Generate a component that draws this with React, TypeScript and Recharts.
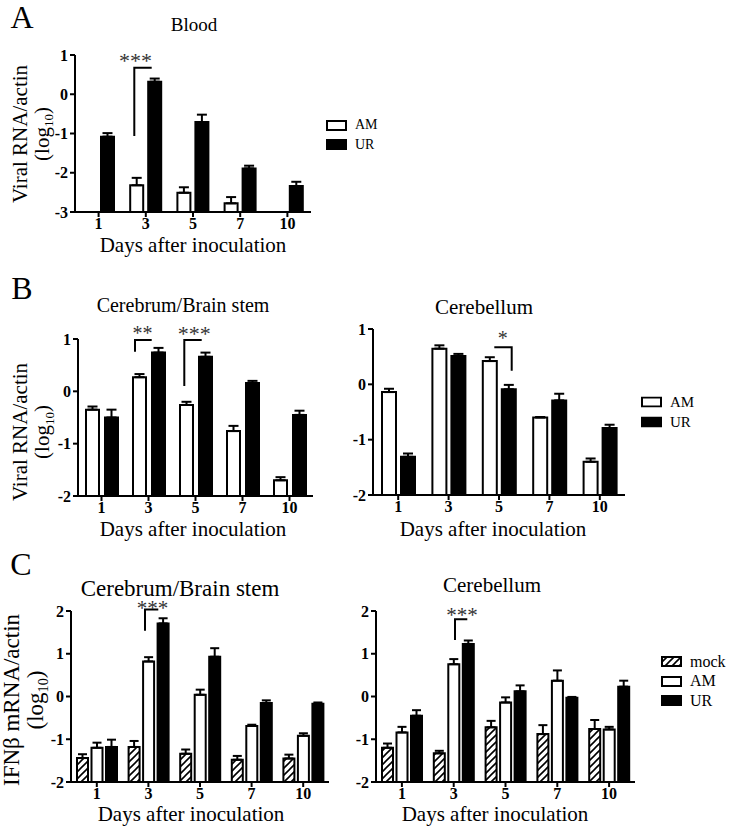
import React from 'react';
import { BarChart, Bar, XAxis, YAxis, ErrorBar } from 'recharts';

const FONT = "'Liberation Serif', 'Times New Roman', Times, serif";

const days = ['1', '3', '5', '7', '10'];

// Panel A: Blood, viral RNA/actin (log10)
const bloodAM = [null, -2.32, -2.51, -2.78, null];
const bloodAMErr = [null, 0.19, 0.14, 0.16, null];
const bloodUR = [-1.08, 0.32, -0.71, -1.89, -2.34];
const bloodURErr = [0.09, 0.08, 0.19, 0.07, 0.11];

// Panel B left: Cerebrum/Brain stem, viral RNA/actin
const cbvAM = [-0.35, 0.27, -0.26, -0.76, -1.7];
const cbvAMErr = [0.06, 0.06, 0.06, 0.1, 0.06];
const cbvUR = [-0.5, 0.74, 0.66, 0.16, -0.45];
const cbvURErr = [0.15, 0.09, 0.08, 0.04, 0.08];

// Panel B right: Cerebellum, viral RNA/actin
const cblvAM = [-0.14, 0.645, 0.42, -0.6, -1.4];
const cblvAMErr = [0.06, 0.06, 0.07, 0.01, 0.06];
const cblvUR = [-1.31, 0.51, -0.09, -0.29, -0.79];
const cblvURErr = [0.06, 0.04, 0.08, 0.12, 0.06];

// Panel C left: Cerebrum/Brain stem, IFNb mRNA/actin
const cbiMock = [-1.44, -1.18, -1.34, -1.48, -1.45];
const cbiMockErr = [0.09, 0.14, 0.1, 0.09, 0.09];
const cbiAM = [-1.2, 0.82, 0.04, -0.69, -0.92];
const cbiAMErr = [0.12, 0.1, 0.12, 0.03, 0.06];
const cbiUR = [-1.18, 1.71, 0.93, -0.15, -0.17];
const cbiURErr = [0.17, 0.12, 0.2, 0.06, 0.03];

// Panel C right: Cerebellum, IFNb mRNA/actin
const cbliMock = [-1.2, -1.33, -0.72, -0.88, -0.76];
const cbliMockErr = [0.1, 0.06, 0.15, 0.21, 0.21];
const cbliAM = [-0.84, 0.755, -0.14, 0.37, -0.77];
const cbliAMErr = [0.13, 0.12, 0.12, 0.24, 0.06];
const cbliUR = [-0.45, 1.23, 0.12, -0.03, 0.23];
const cbliURErr = [0.13, 0.08, 0.14, 0.02, 0.14];

const viralTicksA = [-3, -2, -1, 0, 1];
const viralTicksB = [-2, -1, 0, 1];
const ifnTicks = [-2, -1, 0, 1, 2];

type Series = { key: string; values: (number | null)[]; errs: (number | null)[]; fill: string };

function buildRows(series: Series[]) {
  return days.map((day, i) => {
    const row: any = { day };
    series.forEach((s) => {
      const v = s.values[i];
      const e = s.errs[i];
      row[s.key] = v;
      row[s.key + 'Err'] = v == null || e == null ? null : [0, e];
    });
    return row;
  });
}

const WHITE = '#ffffff';
const BLACK = '#000000';
const HATCH = 'url(#hatchPattern)';

const seriesA: Series[] = [
  { key: 'am', values: bloodAM, errs: bloodAMErr, fill: WHITE },
  { key: 'ur', values: bloodUR, errs: bloodURErr, fill: BLACK },
];
const seriesBL: Series[] = [
  { key: 'am', values: cbvAM, errs: cbvAMErr, fill: WHITE },
  { key: 'ur', values: cbvUR, errs: cbvURErr, fill: BLACK },
];
const seriesBR: Series[] = [
  { key: 'am', values: cblvAM, errs: cblvAMErr, fill: WHITE },
  { key: 'ur', values: cblvUR, errs: cblvURErr, fill: BLACK },
];
const seriesCL: Series[] = [
  { key: 'mock', values: cbiMock, errs: cbiMockErr, fill: HATCH },
  { key: 'am', values: cbiAM, errs: cbiAMErr, fill: WHITE },
  { key: 'ur', values: cbiUR, errs: cbiURErr, fill: BLACK },
];
const seriesCR: Series[] = [
  { key: 'mock', values: cbliMock, errs: cbliMockErr, fill: HATCH },
  { key: 'am', values: cbliAM, errs: cbliAMErr, fill: WHITE },
  { key: 'ur', values: cbliUR, errs: cbliURErr, fill: BLACK },
];

const tickStyle = { fill: '#000', fontSize: 16, fontWeight: 'bold', fontFamily: FONT };
const axisLineStyle = { stroke: '#000', strokeWidth: 2 };

type PanelProps = {
  left: number;
  top: number;
  width: number;
  height: number;
  series: Series[];
  domain: [number, number];
  ticks: number[];
  barSize: number;
  barGap: number;
  capHalf: number;
};

function Panel({ left, top, width, height, series, domain, ticks, barSize, barGap, capHalf }: PanelProps) {
  const rows = buildRows(series);
  const base = domain[0];
  return (
    <div style={{ position: 'absolute', left, top }}>
      <BarChart
        width={width}
        height={height}
        data={rows}
        margin={{ top: 10, right: 10, bottom: 0, left: 0 }}
        barGap={barGap}
      >
        <XAxis
          dataKey="day"
          height={25}
          interval={0}
          axisLine={axisLineStyle}
          tickLine={axisLineStyle}
          tickSize={5}
          tickMargin={1}
          tick={tickStyle}
        />
        <YAxis
          type="number"
          domain={domain}
          ticks={ticks}
          width={40}
          interval={0}
          axisLine={axisLineStyle}
          tickLine={axisLineStyle}
          tickSize={5}
          tickMargin={2}
          tick={tickStyle}
        />
        {series.map((s) => (
          <Bar
            key={s.key}
            dataKey={(d: any) => [base, d[s.key] == null ? base : d[s.key]]}
            barSize={barSize}
            fill={s.fill}
            stroke="#000"
            strokeWidth={2}
            isAnimationActive={false}
          >
            <ErrorBar dataKey={s.key + 'Err'} width={capHalf} stroke="#000" strokeWidth={2} direction="y" />
          </Bar>
        ))}
      </BarChart>
    </div>
  );
}

function Txt({ x, y, size, children, bold }: { x: number; y: number; size: number; children: React.ReactNode; bold?: boolean }) {
  return (
    <div
      style={{
        position: 'absolute',
        left: x,
        top: y,
        transform: 'translate(-50%, -50%)',
        fontSize: size,
        fontFamily: FONT,
        fontWeight: bold ? 'bold' : 'normal',
        whiteSpace: 'nowrap',
        lineHeight: 1,
        color: '#000',
      }}
    >
      {children}
    </div>
  );
}

function YLabel({ x, y, size, gap, line1 }: { x: number; y: number; size: number; gap: number; line1: string }) {
  return (
    <div
      style={{
        position: 'absolute',
        left: x,
        top: y,
        transform: 'translate(-50%, -50%) rotate(-90deg)',
        fontSize: size,
        fontFamily: FONT,
        whiteSpace: 'nowrap',
        lineHeight: `${gap}px`,
        textAlign: 'center',
        color: '#000',
      }}
    >
      <div>{line1}</div>
      <div>
        (log<sub style={{ fontSize: size * 0.62, verticalAlign: 'baseline', position: 'relative', top: size * 0.22 }}>10</sub>)
      </div>
    </div>
  );
}

function LegendBox({ fill }: { fill: string }) {
  return (
    <svg width={21} height={11} style={{ display: 'block' }}>
      <rect x={1} y={1} width={19} height={9} fill={fill} stroke="#000" strokeWidth={2} />
    </svg>
  );
}

function Legend({ x, y, rowGap, size, items }: { x: number; y: number; rowGap: number; size: number; items: { label: string; fill: string }[] }) {
  return (
    <>
      {items.map((it, i) => (
        <div
          key={it.label}
          style={{
            position: 'absolute',
            left: x,
            top: y + i * rowGap,
            transform: 'translateY(-50%)',
            display: 'flex',
            alignItems: 'center',
            fontFamily: FONT,
            fontSize: size,
            lineHeight: 1,
            whiteSpace: 'nowrap',
          }}
        >
          <LegendBox fill={it.fill} />
          <span style={{ marginLeft: 8 }}>{it.label}</span>
        </div>
      ))}
    </>
  );
}

const XLABEL = 'Days after inoculation';

export default function App() {
  return (
    <div style={{ position: 'absolute', left: 0, top: 0, width: 730, height: 830, background: '#fff', overflow: 'hidden' }}>
      <svg width={0} height={0} style={{ position: 'absolute' }}>
        <defs>
          <pattern id="hatchPattern" patternUnits="userSpaceOnUse" width={7} height={7}>
            <rect x={0} y={0} width={7} height={7} fill="#fff" />
            <path d="M-1,1 L1,-1 M0,7 L7,0 M6,8 L8,6" stroke="#000" strokeWidth={1.6} />
          </pattern>
        </defs>
      </svg>

      {/* Panel A */}
      <Txt x={22} y={17} size={32}>A</Txt>
      <Txt x={194} y={24} size={19}>Blood</Txt>
      <YLabel x={32} y={134} size={21} gap={21.5} line1="Viral RNA/actin" />
      <Panel left={35} top={45} width={286} height={192} series={seriesA} domain={[-3, 1]} ticks={viralTicksA} barSize={13} barGap={5} capHalf={5} />
      <Txt x={193} y={245} size={21}>{XLABEL}</Txt>
      <Legend x={326} y={125} rowGap={19.5} size={14} items={[{ label: 'AM', fill: WHITE }, { label: 'UR', fill: BLACK }]} />

      {/* Panel B */}
      <Txt x={22} y={288} size={32}>B</Txt>
      <Txt x={183} y={305} size={20}>Cerebrum/Brain stem</Txt>
      <Txt x={484} y={307} size={21}>Cerebellum</Txt>
      <YLabel x={32} y={432} size={21} gap={22} line1="Viral RNA/actin" />
      <Panel left={38} top={329} width={285} height={192} series={seriesBL} domain={[-2, 1]} ticks={viralTicksB} barSize={13} barGap={6} capHalf={5} />
      <Panel left={333} top={319} width={302} height={201} series={seriesBR} domain={[-2, 1]} ticks={viralTicksB} barSize={14} barGap={5} capHalf={5} />
      <Txt x={193} y={529} size={21}>{XLABEL}</Txt>
      <Txt x={493} y={529} size={21}>{XLABEL}</Txt>
      <Legend x={641} y={402} rowGap={19.5} size={15} items={[{ label: 'AM', fill: WHITE }, { label: 'UR', fill: BLACK }]} />

      {/* Panel C */}
      <Txt x={21} y={564} size={32}>C</Txt>
      <Txt x={180} y={588} size={23}>Cerebrum/Brain stem</Txt>
      <Txt x={492} y={585} size={21}>Cerebellum</Txt>
      <YLabel x={25} y={700} size={23} gap={23.5} line1="IFNβ mRNA/actin" />
      <Panel left={31} top={601} width={308} height={206} series={seriesCL} domain={[-2, 2]} ticks={ifnTicks} barSize={11} barGap={3.5} capHalf={4.5} />
      <Panel left={336} top={601} width={309} height={206} series={seriesCR} domain={[-2, 2]} ticks={ifnTicks} barSize={11} barGap={3.5} capHalf={4.5} />
      <Txt x={191} y={814} size={21}>{XLABEL}</Txt>
      <Txt x={495} y={814} size={21}>{XLABEL}</Txt>
      <Legend x={661} y={661.5} rowGap={19.7} size={16} items={[{ label: 'mock', fill: HATCH }, { label: 'AM', fill: WHITE }, { label: 'UR', fill: BLACK }]} />

      {/* significance annotations */}
      <svg width={730} height={830} style={{ position: 'absolute', left: 0, top: 0, pointerEvents: 'none' }}>
        <g fill="none" stroke="#000" strokeWidth={2}>
          <polyline points="134.3,136 134.3,67.7 151.7,67.7" />
          <polyline points="135,351.7 135,340 151.7,340" />
          <polyline points="184.3,386 184.3,340 201.7,340" />
          <polyline points="494.3,347.3 511.7,347.3 511.7,370.7" />
          <polyline points="145,630.7 145,609.5 158.3,609.5" />
          <polyline points="455,640 455,619.3 467.3,619.3" />
        </g>
        <g fill="#333" fontFamily={FONT} textAnchor="middle">
          <text x={135.5} y={68} fontSize={22}>***</text>
          <text x={142.6} y={340} fontSize={20}>**</text>
          <text x={194.3} y={341} fontSize={22}>***</text>
          <text x={502.7} y={345} fontSize={20}>*</text>
          <text x={152.5} y={615} fontSize={21}>***</text>
          <text x={462} y={622} fontSize={21}>***</text>
        </g>
      </svg>
    </div>
  );
}
